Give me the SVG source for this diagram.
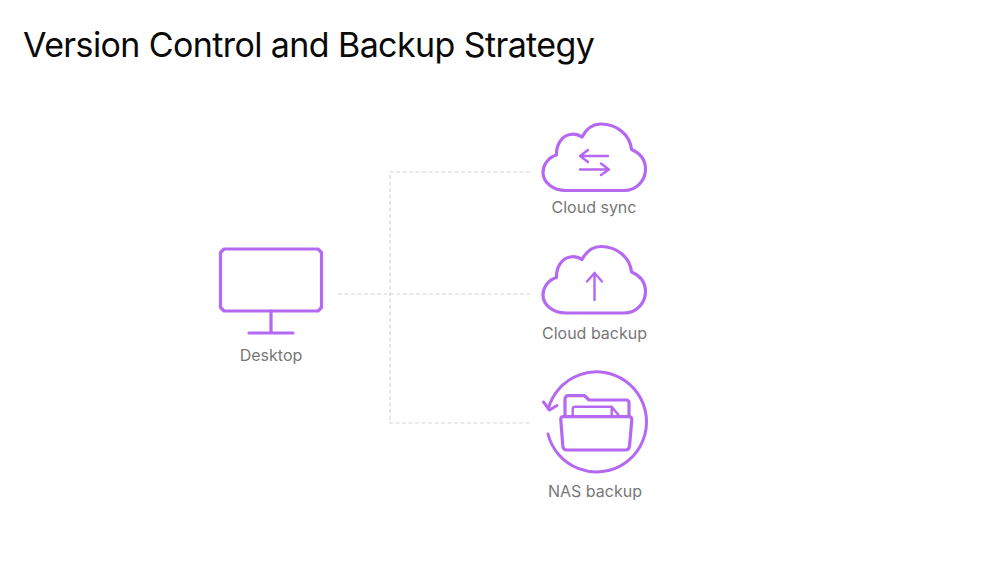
<svg xmlns="http://www.w3.org/2000/svg" width="1000" height="563" viewBox="0 0 1000 563">
<style>
text{font-family:Inter,"Liberation Sans",sans-serif}
.title{font-size:34px;letter-spacing:-0.6px;fill:#0a0a0a}
.label{font-size:16px;fill:#777;text-anchor:middle}
.icon{fill:none;stroke:#b568f2;stroke-width:3.2;stroke-linejoin:round;stroke-linecap:round}
.thin{stroke-width:2.4}
.ring{stroke-width:3}
.conn{fill:none;stroke:#d6d6d6;stroke-width:1.2;stroke-dasharray:4 2.5}
</style>
<defs>
<path id="cloud" d="M566 190.500H624C636.500 190.500 645.500 180.500 645.500 169C645.500 159.500 639.500 152.500 631.500 149.500C630 135 617 124 601 124C592.500 124 586 129.500 582 137C578.500 134.500 574 133.500 570 134.500C561.500 136 556 145 556.500 155C548 157.500 543 165 543 172.500C543 182.500 553 190.500 566 190.500Z"/>
</defs>
<rect width="1000" height="563" fill="#fff"/>
<text class="title" x="23" y="57">Version Control and Backup Strategy</text>
<g id="connectors">
<path class="conn" d="M338 294H530"/>
<path class="conn" d="M530 172H390V423H530"/>
</g>
<g id="desktop">
<path class="icon" d="M224 249H318L321.500 252.500V307.500L318 311H224L220.500 307.500V252.500Z"/>
<path class="icon" d="M271 311V333M249 333H293"/>
<text class="label" x="271" y="361">Desktop</text>
</g>
<g id="cloud-sync">
<use href="#cloud" class="icon"/>
<path class="icon thin" d="M608 156H580M588 150L580 156L588 162M580 169.500H609M601 163.500L609 169.500L601 175"/>
<text class="label" x="594" y="213">Cloud sync</text>
</g>
<g id="cloud-backup">
<use href="#cloud" class="icon" y="122.500"/>
<path class="icon thin" d="M594.500 300V273M587 281.500L594.500 273L602 281.500"/>
<text class="label" x="594.500" y="338.500">Cloud backup</text>
</g>
<g id="nas-backup">
<path class="icon ring" d="M548 434A50 50 0 1 0 548.200 409M543.500 402L549.500 410L557 405.500"/>
<path class="icon" d="M565 415V399C565 397 566.500 395.700 568 395.700H584.500L589 400H626C628 400 629 401 629 403V415"/>
<path class="icon thin" d="M572.700 415V409C572.700 407.500 573.700 406.700 575 406.700H611.700L618.500 415M611.700 406.700V415"/>
<path class="icon" d="M563 416.700H629C631 416.700 632 418 631.800 420L629.500 446C629.200 449 628 450 625.500 450H567C564.500 450 563 449 562.800 446L560.800 420C560.600 418 561 416.700 563 416.700Z"/>
<text class="label" x="595" y="497">NAS backup</text>
</g>
</svg>
